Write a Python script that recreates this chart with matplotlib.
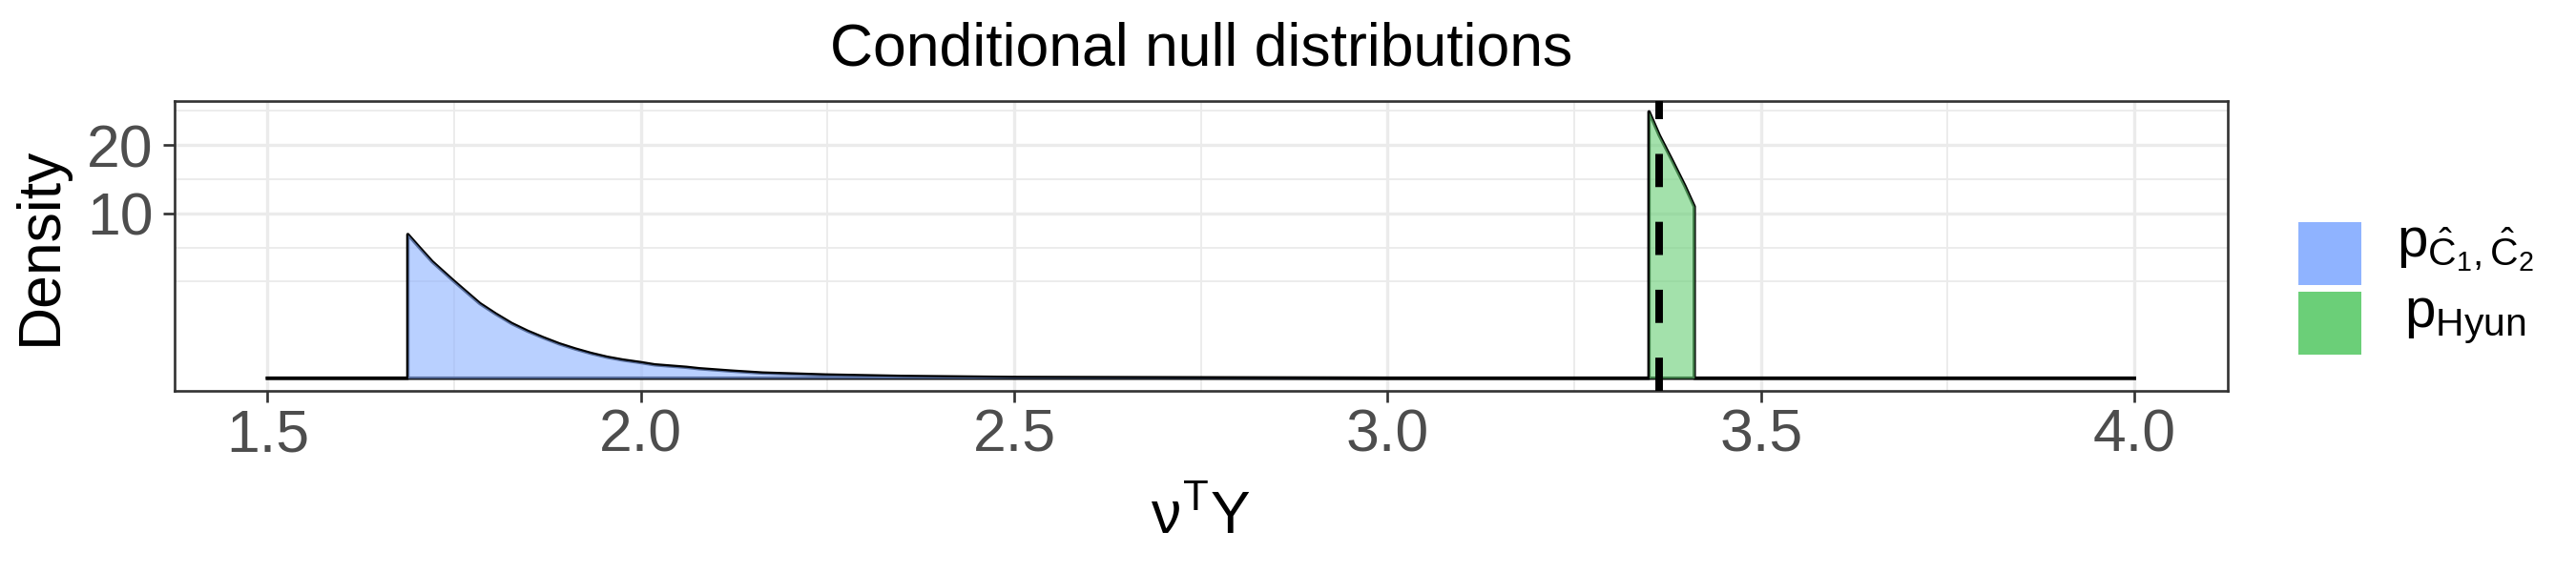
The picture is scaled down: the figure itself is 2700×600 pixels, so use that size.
import numpy as np
import matplotlib
matplotlib.use("Agg")
import matplotlib.pyplot as plt
from matplotlib.patches import Rectangle

plt.rcParams['font.family'] = ['Liberation Sans', 'DejaVu Sans']
plt.rcParams['mathtext.fontset'] = 'custom'
plt.rcParams['mathtext.rm'] = 'Liberation Sans'
plt.rcParams['mathtext.it'] = 'Liberation Sans'
plt.rcParams['mathtext.bf'] = 'Liberation Sans:bold'

# density
blue_x = [1.5, 1.688, 1.688, 1.7034, 1.7204, 1.7494, 1.7843, 1.8056, 1.8269, 1.8481,
          1.8695, 1.8908, 1.912, 1.9333, 1.9547, 1.9759, 1.9994, 2.0185, 2.061,
          2.078, 2.12, 2.163, 2.248, 2.35, 2.5, 3.0, 3.5, 4.0]
blue_d = [0, 0, 7.59, 6.28, 5.0, 3.47, 2.05, 1.518, 1.101, 0.815,
          0.601, 0.433, 0.315, 0.226, 0.162, 0.121, 0.090, 0.0655, 0.0434,
          0.033, 0.019, 0.0098, 0.0038, 0.0012, 0.0002, 0, 0, 0]

green_x = [1.5, 3.350, 3.350, 3.3637, 3.381, 3.398, 3.4106, 3.4106, 4.0]
green_d = [0, 0, 26.1, 21.7, 17.43, 13.6, 10.83, 0, 0]

observed = 3.3637

labels = [r'$\mathrm{p}_{\hat{\mathrm{C}}_1,\hat{\mathrm{C}}_2}$', r'$\mathrm{p}_{\mathrm{Hyun}}$']
key_cols = ['#8FB3FF', '#6BCF78']

x_breaks = [1.5, 2.0, 2.5, 3.0, 3.5, 4.0]
y_breaks = [10, 20]

fig = plt.figure(figsize=(9, 2), dpi=300)
ax = fig.add_axes([182.5 / 2700, 1 - 410 / 600, (2335 - 182.5) / 2700, (410 - 105.7) / 600])

# sqrt y scale, done by hand
for xs, ds, col in [(blue_x, blue_d, key_cols[0]), (green_x, green_d, key_cols[1])]:
    ys = np.sqrt(ds)
    ax.plot(xs, ys, color='black', lw=0.85, zorder=3, solid_joinstyle='round')
    ax.fill_between(xs, 0, ys, color=col, alpha=0.62, lw=0, zorder=4)

ax.axvline(observed, color='black', lw=1.9, dashes=(4.4, 4.6), zorder=5)

ax.set_xlim(1.375, 4.125)
ax.set_ylim(-0.243, 5.32)

ax.set_xticks(x_breaks)
ax.set_xticklabels([f'{b:.1f}' for b in x_breaks])
ax.set_xticks([1.75, 2.25, 2.75, 3.25, 3.75], minor=True)
yb = np.sqrt(y_breaks)
step = (yb[1] - yb[0]) / 2
ax.set_yticks(yb)
ax.set_yticklabels([str(b) for b in y_breaks])
ax.set_yticks([yb[0] - 2 * step, yb[0] - step, yb[0] + step, yb[1] + step], minor=True)

ax.grid(which='major', color='#EBEBEB', lw=0.8, zorder=0)
ax.grid(which='minor', color='#EBEBEB', lw=0.45, zorder=0)
ax.set_axisbelow(True)
ax.tick_params(which='major', length=2.8, width=0.64, color='#333333',
               labelsize=15, labelcolor='#4D4D4D', pad=2.5)
ax.tick_params(axis='x', which='major', pad=1.4)
ax.tick_params(which='minor', length=0)
for s in ax.spines.values():
    s.set_color('#333333')
    s.set_linewidth(0.64)

ax.set_title('Conditional null distributions', fontsize=15, pad=9)
ax.set_xlabel(r'$\nu^{\mathrm{T}}\mathrm{Y}$', fontsize=15, labelpad=6.3)
ax.set_ylabel('Density', fontsize=15, labelpad=4.5)

# legend
for i, (lab, col) in enumerate(zip(labels, key_cols)):
    top = 233 + i * 73
    fig.add_artist(Rectangle((2409 / 2700, 1 - (top + 66) / 600), 66 / 2700, 66 / 600,
                             transform=fig.transFigure, color=col, lw=0))
    fig.text(2584 / 2700, 1 - (top + 37) / 600, lab, fontsize=14, va='baseline', ha='center')

fig.savefig('out.png', dpi=300)
